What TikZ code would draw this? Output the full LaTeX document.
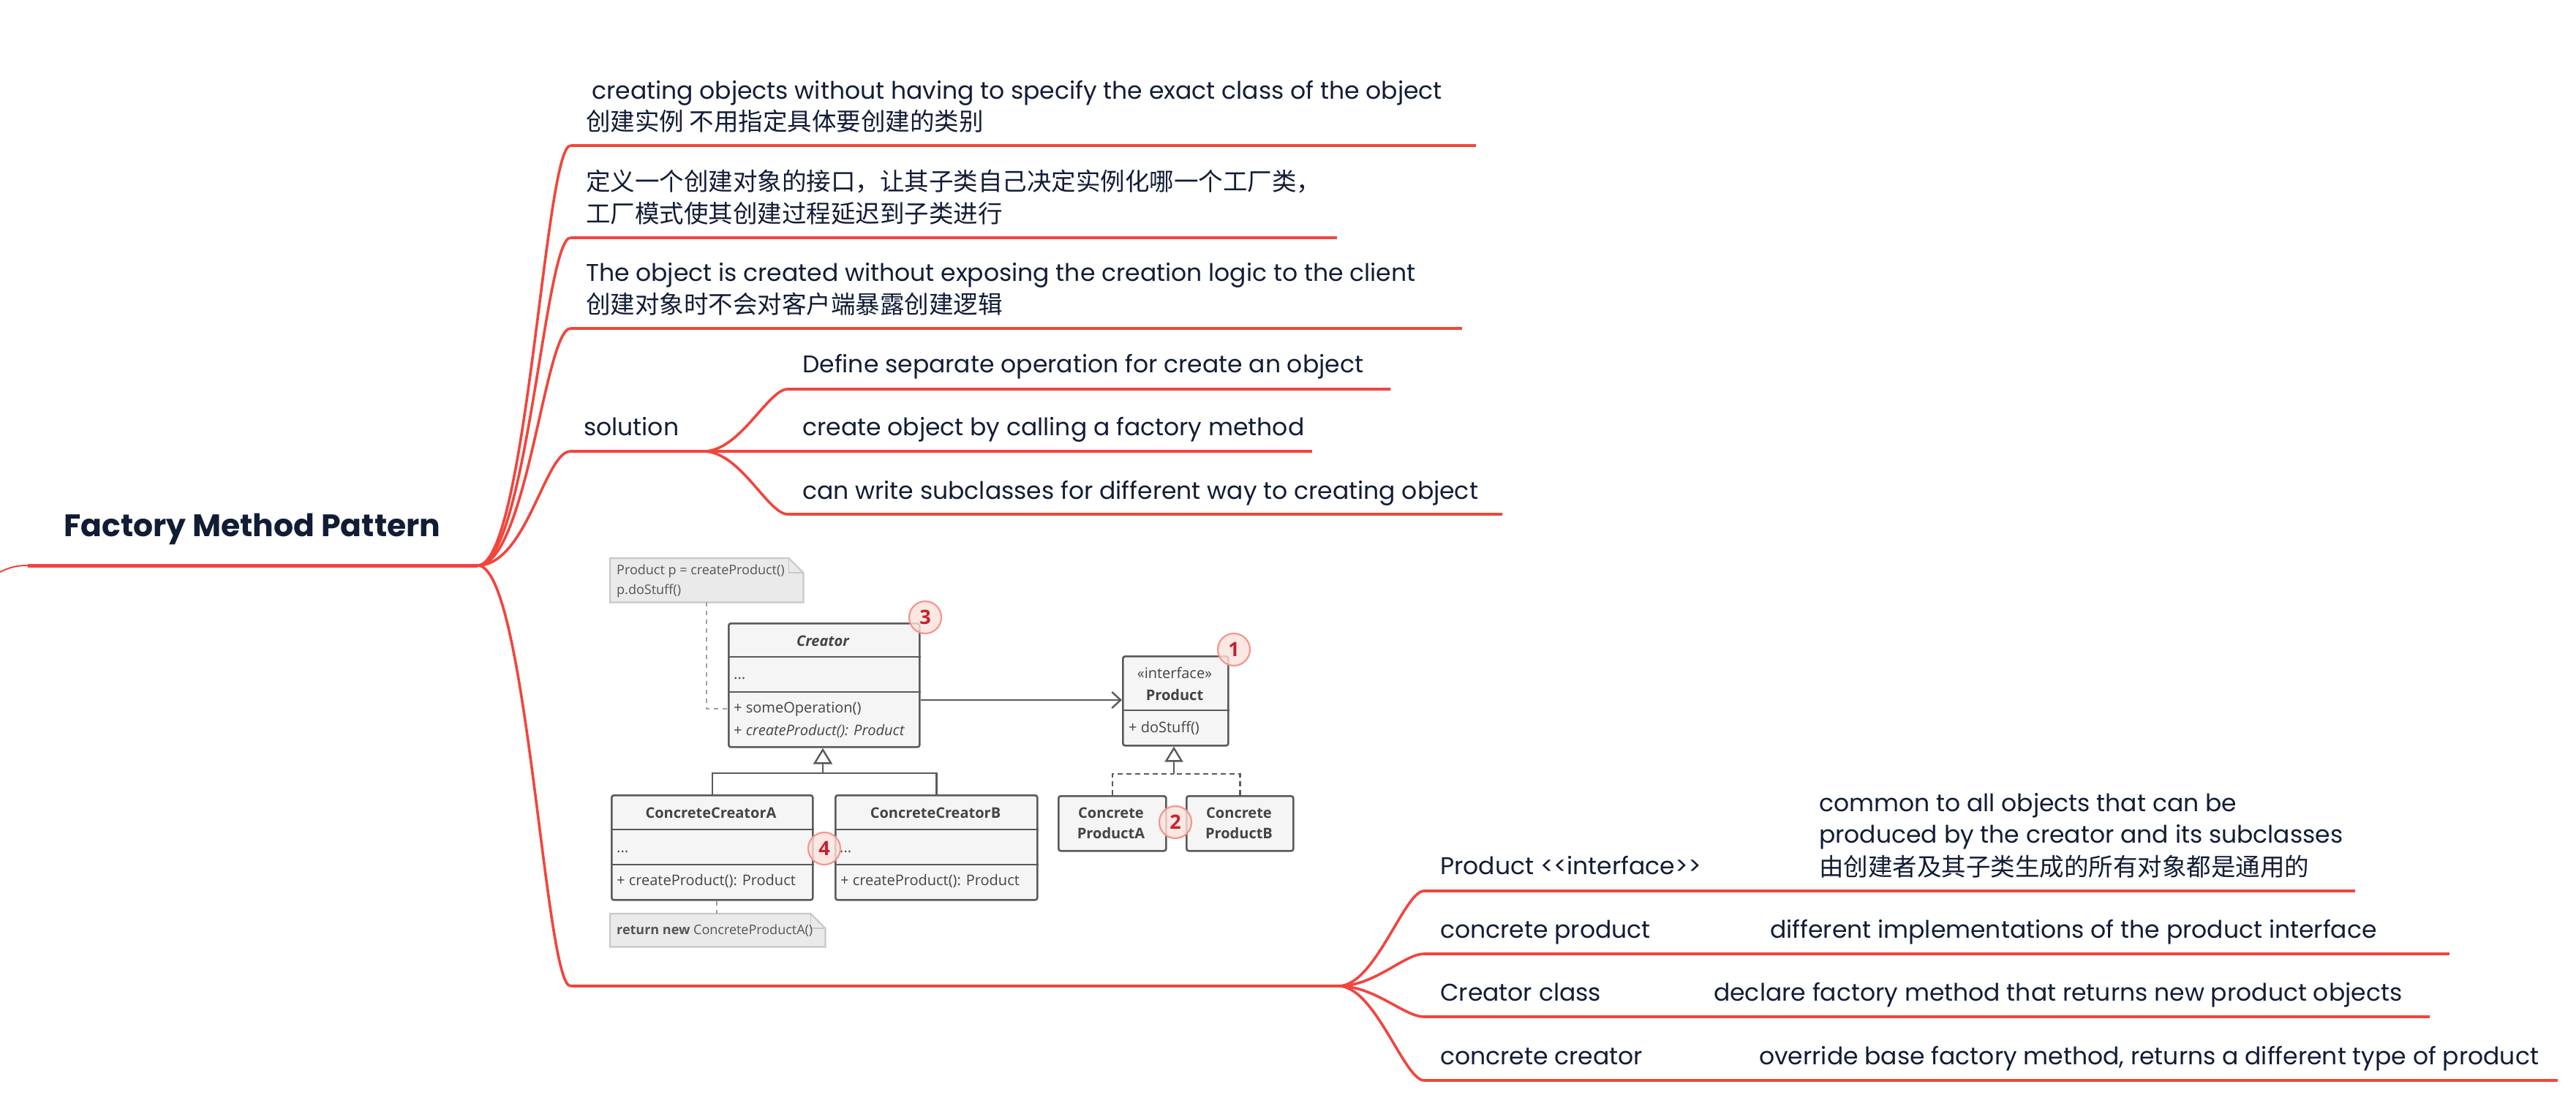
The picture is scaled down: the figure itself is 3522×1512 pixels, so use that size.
\documentclass[tikz,border=0pt]{standalone}
\usepackage{fontspec}
\setmainfont{Poppins}
\newfontfamily\cjk{Noto Sans CJK SC}
\newfontfamily\umlf{Open Sans}
\usetikzlibrary{arrows.meta,calc}
\definecolor{mmred}{HTML}{F1453D}
\definecolor{mmtext}{HTML}{111C35}
\definecolor{umlline}{HTML}{5A5A5A}
\definecolor{umlfill}{HTML}{F5F5F5}
\definecolor{umltext}{HTML}{444444}
\definecolor{notefill}{HTML}{EAEAEA}
\definecolor{noteline}{HTML}{C8C8C8}
\definecolor{notetext}{HTML}{555555}
\definecolor{badgefill}{HTML}{FCE1DD}
\definecolor{badgeline}{HTML}{F3968B}
\definecolor{badgetext}{HTML}{C6202E}
\begin{document}
\begin{tikzpicture}[x=1pt,y=-1pt,
  mmline/.style={draw=mmred, line width=3.6pt},
  rootline/.style={draw=mmred, line width=5pt},
  stubline/.style={draw=mmred, line width=2pt},
  lat/.style={anchor=base west, inner sep=0pt, text=mmtext, font=\fontsize{33}{40}\selectfont},
  han/.style={anchor=west, inner sep=0pt, text=mmtext, font=\cjk\fontsize{33.5}{40}\selectfont},
  roottxt/.style={anchor=base west, inner sep=0pt, text=mmtext, font=\bfseries\fontsize{42.5}{50}\selectfont},
  umlbox/.style={draw=umlline, fill=umlfill, line width=2.6pt, rounded corners=3pt, anchor=north west, inner sep=0pt},
  umldiv/.style={draw=umlline, line width=2.6pt},
  umlconn/.style={draw=umlline, line width=2.4pt},
  umltxt/.style={inner sep=0pt, text=umltext, font=\umlf\fontsize{20}{24}\selectfont},
  umlbold/.style={umltxt, font=\umlf\bfseries\fontsize{20}{24}\selectfont},
  notebox/.style={draw=noteline, fill=notefill, line width=2.2pt},
  notetxt/.style={inner sep=0pt, anchor=west, text=notetext, font=\umlf\fontsize{18}{22}\selectfont},
  notedash/.style={draw=noteline!80!black, line width=2pt, dash pattern=on 6pt off 6pt},
  badge/.style={circle, minimum size=44pt, inner sep=0pt, fill=badgefill, fill opacity=0.8, text opacity=1, draw=badgeline, line width=2.2pt, text=badgetext, font=\umlf\bfseries\fontsize{27}{27}\selectfont}
]
\fill[white] (0,0) rectangle (3522,1512);
\useasboundingbox (0,0) rectangle (3522,1512);

% ---------- mind map skeleton ----------
\coordinate (stubL) at (0,782);
\coordinate (rootS) at (38,773);
\coordinate (fork) at (653,773);
\coordinate (b1s) at (780,199);  \coordinate (b1e) at (2018,199);
\coordinate (b2s) at (780,325);  \coordinate (b2e) at (1828,325);
\coordinate (b3s) at (780,449);  \coordinate (b3e) at (1999,449);
\coordinate (b4s) at (780,617);  \coordinate (sfork) at (962,617);
\coordinate (s1s) at (1077,532); \coordinate (s1e) at (1901,532);
\coordinate (s2e) at (1794,617);
\coordinate (s3s) at (1077,703); \coordinate (s3e) at (2054,703);
\coordinate (b5s) at (780,1348); \coordinate (pfork) at (1830,1348);
\coordinate (q1s) at (1947,1218); \coordinate (q1e) at (3220,1218);
\coordinate (q2s) at (1947,1304); \coordinate (q2e) at (3349,1304);
\coordinate (q3s) at (1947,1390); \coordinate (q3e) at (3322,1390);
\coordinate (q4s) at (1947,1477); \coordinate (q4e) at (3497,1477);

\draw[stubline] (stubL) .. controls (14,775) and (24,773) .. (rootS);
\draw[rootline] (rootS) -- (fork);
\foreach \b in {b1,b2,b3,b4,b5}{
  \draw[mmline] (fork) .. controls (720,773) and ($(\b s)+(-35,0)$) .. (\b s);
}
\draw[mmline] (b1s) -- (b1e);
\draw[mmline] (b2s) -- (b2e);
\draw[mmline] (b3s) -- (b3e);
\draw[mmline] (b4s) -- (sfork) -- (s2e);
\draw[mmline] (sfork) .. controls (1012,617) and (1050,532) .. (s1s) -- (s1e);
\draw[mmline] (sfork) .. controls (1012,617) and (1050,703) .. (s3s) -- (s3e);
\draw[mmline] (b5s) -- (pfork);
\foreach \q in {q1,q2,q3,q4}{
  \draw[mmline] (pfork) .. controls (1880,1348) and ($(\q s)+(-27,0)$) .. (\q s) -- (\q e);
}

% ---------- mind map texts ----------
\node[roottxt] (root) at (87,733) {Factory Method Pattern};
\node[lat] (t1a) at (809,135) {creating objects without having to specify the exact class of the object};
\node[han] (t1b) at (801,166) {创建实例 不用指定具体要创建的类别};
\node[han] (t2a) at (801,248) {定义一个创建对象的接口，让其子类自己决定实例化哪一个工厂类，};
\node[han] (t2b) at (801,292) {工厂模式使其创建过程延迟到子类进行};
\node[lat] (t3a) at (801,384) {The object is created without exposing the creation logic to the client};
\node[han] (t3b) at (801,416) {创建对象时不会对客户端暴露创建逻辑};
\node[lat] (sol) at (798,595) {solution};
\node[lat] (s1) at (1097,509) {Define separate operation for create an object};
\node[lat] (s2) at (1097,595) {create object by calling a factory method};
\node[lat] (s3) at (1097,682) {can write subclasses for different way to creating object};
\node[lat] (p1) at (1969,1195) {Product <\kern0pt<interface>\kern0pt>};
\node[lat] (p1d1) at (2487,1109) {common to all objects that can be};
\node[lat] (p1d2) at (2487,1152) {produced by the creator and its subclasses};
\node[han] (p1d3) at (2487,1185) {由创建者及其子类生成的所有对象都是通用的};
\node[lat] (p2) at (1969,1282) {concrete product};
\node[lat] (p2d) at (2420,1282) {different implementations of the product interface};
\node[lat] (p3) at (1969,1368) {Creator class};
\node[lat] (p3d) at (2343,1368) {declare factory method that returns new product objects};
\node[lat] (p4) at (1969,1455) {concrete creator};
\node[lat] (p4d) at (2405,1455) {override base factory method, returns a different type of product};

% ---------- UML diagram ----------
% notes
\node[anchor=north west, minimum width=264, minimum height=60, inner sep=0pt] (note1) at (834,763) {};
\draw[notebox] (note1.north west) -- ([xshift=-20pt]note1.north east) -- ([yshift=-20pt]note1.north east) -- (note1.south east) -- (note1.south west) -- cycle;
\draw[draw=noteline, line width=1.6pt] ([xshift=-20pt]note1.north east) |- ([yshift=-20pt]note1.north east);
\node[notetxt] (n1l1) at (843,781) {Product p = createProduct()};
\node[notetxt] (n1l2) at (843,808) {p.doStuff()};

\node[anchor=north west, minimum width=294, minimum height=45, inner sep=0pt] (note2) at (834,1249) {};
\draw[notebox] (note2.north west) -- ([xshift=-20pt]note2.north east) -- ([yshift=-20pt]note2.north east) -- (note2.south east) -- (note2.south west) -- cycle;
\draw[draw=noteline, line width=1.6pt] ([xshift=-20pt]note2.north east) |- ([yshift=-20pt]note2.north east);
\node[notetxt] (n2l1) at (843,1272) {\textbf{return new} ConcreteProductA()};

% Creator
\node[umlbox, minimum width=261, minimum height=169] (creator) at (995,851) {};
\coordinate (cr1) at (0,898); \coordinate (cr2) at (0,946);
\draw[umldiv] (creator.west |- cr1) -- (creator.east |- cr1);
\draw[umldiv] (creator.west |- cr2) -- (creator.east |- cr2);
\node[umltxt, font=\umlf\bfseries\itshape\fontsize{20}{24}\selectfont] (crname) at (1125,876) {Creator};
\node[umltxt, anchor=base west] (crattr) at (1003,928) {...};
\node[umltxt, anchor=west] (crm1) at (1003,970) {+ someOperation()};
\node[umltxt, anchor=west] (crm2) at (1003,999) {+ \textit{createProduct(): Product}};

% ConcreteCreatorA
\node[umlbox, minimum width=275, minimum height=143] (cca) at (835,1086) {};
\coordinate (ca1) at (0,1134); \coordinate (ca2) at (0,1182);
\draw[umldiv] (cca.west |- ca1) -- (cca.east |- ca1);
\draw[umldiv] (cca.west |- ca2) -- (cca.east |- ca2);
\node[umlbold] (ccaname) at (972,1111) {ConcreteCreatorA};
\node[umltxt, anchor=base west] (ccaattr) at (843,1165) {...};
\node[umltxt, anchor=west] (ccam) at (843,1204) {+ createProduct(): Product};

% ConcreteCreatorB
\node[umlbox, minimum width=276, minimum height=143] (ccb) at (1141,1086) {};
\draw[umldiv] (ccb.west |- ca1) -- (ccb.east |- ca1);
\draw[umldiv] (ccb.west |- ca2) -- (ccb.east |- ca2);
\node[umlbold] (ccbname) at (1279,1111) {ConcreteCreatorB};
\node[umltxt, anchor=base west] (ccbattr) at (1148,1165) {...};
\node[umltxt, anchor=west] (ccbm) at (1149,1204) {+ createProduct(): Product};

% Product
\node[umlbox, minimum width=144, minimum height=122] (product) at (1534,896) {};
\coordinate (pr1) at (0,971);
\draw[umldiv] (product.west |- pr1) -- (product.east |- pr1);
\node[umltxt] (prster) at (1606,920) {«interface»};
\node[umlbold] (prname) at (1606,950) {Product};
\node[umltxt, anchor=west] (prm) at (1543,995) {+ doStuff()};

% Concrete products
\node[umlbox, minimum width=147, minimum height=75] (cpa) at (1446,1087) {};
\node[umlbold] (cpaname1) at (1519,1111) {Concrete};
\node[umlbold] (cpaname2) at (1519,1139) {ProductA};
\node[umlbox, minimum width=146, minimum height=75] (cpb) at (1621,1087) {};
\node[umlbold] (cpbname1) at (1694,1111) {Concrete};
\node[umlbold] (cpbname2) at (1694,1139) {ProductB};

% connectors
\coordinate (ih1) at (1125,1057);
\coordinate (ih2) at (1605,1058);
\coordinate (n1x) at (966,0);
\coordinate (n2x) at (980,0);
\coordinate (arry) at (0,957);
\coordinate (n1y) at (0,969);
\draw[umlconn] (cca.north) |- (ih1);
\draw[umlconn] (ccb.north) |- (ih1);
\draw[umlconn, -{Triangle[open, fill=white, length=22pt, width=26pt, line width=2.4pt]}] (ih1) -- (creator.south -| ih1);
\draw[umlconn, dash pattern=on 7pt off 5pt] (cpa.north) |- (ih2);
\draw[umlconn, dash pattern=on 7pt off 5pt] (cpb.north) |- (ih2);
\draw[umlconn, -{Triangle[open, fill=white, length=21pt, width=25pt, line width=2.4pt]}] (ih2) -- (product.south -| ih2);
\draw[umlconn, -{Straight Barb[length=12pt, width=22pt, line width=2.4pt]}] (creator.east |- arry) -- (product.west |- arry);
\draw[notedash] (note1.south -| n1x) |- (creator.west |- n1y);
\draw[notedash] (cca.south -| n2x) -- (note2.north -| n2x);

% badges
\node[badge] (bd3) at (1265,844) {3};
\node[badge] (bd1) at (1687,888) {1};
\node[badge] (bd2) at (1607,1124) {2};
\node[badge] (bd4) at (1127,1160) {4};
\end{tikzpicture}
\end{document}
